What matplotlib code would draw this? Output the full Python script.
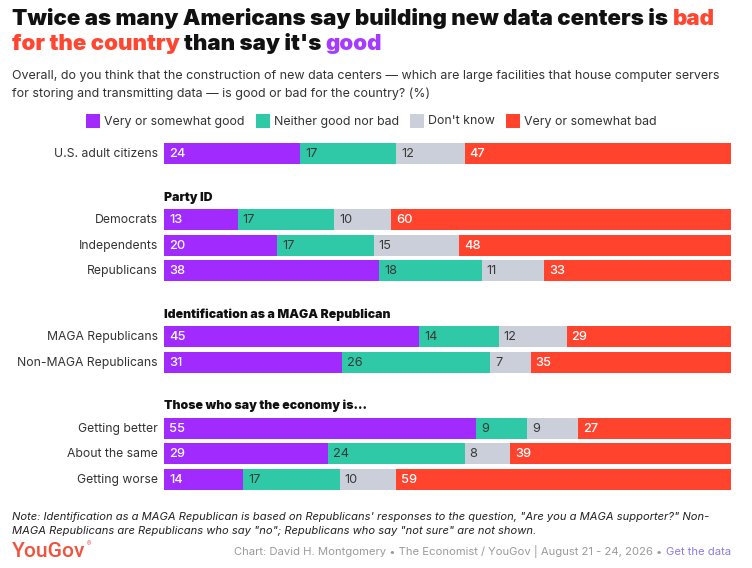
import matplotlib
matplotlib.use("Agg")
import matplotlib.pyplot as plt
from matplotlib.patches import Rectangle
from matplotlib.transforms import offset_copy

# ---------------- data ----------------
categories = ["Very or somewhat good", "Neither good nor bad", "Don't know", "Very or somewhat bad"]
colors = ["#A12AFF", "#2FC9A8", "#CBCFD9", "#FF432D"]
label_colors = ["white", "#3a3a3a", "#3a3a3a", "white"]

group_titles = ["", "Party ID", "Identification as a MAGA Republican", "Those who say the economy is..."]
group_rows = [
    ["U.S. adult citizens"],
    ["Democrats", "Independents", "Republicans"],
    ["MAGA Republicans", "Non-MAGA Republicans"],
    ["Getting better", "About the same", "Getting worse"],
]
good = [24, 13, 20, 38, 45, 31, 55, 29, 14]
neither = [17, 17, 17, 18, 14, 26, 9, 24, 17]
dont_know = [12, 10, 15, 11, 12, 7, 9, 8, 10]
bad = [47, 60, 48, 33, 29, 35, 27, 39, 59]

title_line1 = [("Twice as many Americans say building new data centers is", "#111111"), ("bad", "#FF4631")]
title_line2 = [("for the country", "#FF4631"), ("than say it's", "#111111"), ("good", "#A43BFF")]
subtitle = ["Overall, do you think that the construction of new data centers \u2014 which are large facilities that house computer servers",
            "for storing and transmitting data \u2014 is good or bad for the country? (%)"]
note = ["Note: Identification as a MAGA Republican is based on Republicans' responses to the question, \"Are you a MAGA supporter?\" Non-",
        "MAGA Republicans are Republicans who say \"no\"; Republicans who say \"not sure\" are not shown."]
credit = "Chart: David H. Montgomery \u2022 The Economist / YouGov | August 21 - 24, 2026 \u2022 "
credit_link = "Get the data"

# ---------------- figure ----------------
W, H = 752, 568
plt.rcParams['font.family'] = ['Inter', 'DejaVu Sans']
fig = plt.figure(figsize=(W / 100, H / 100), dpi=100)
fig.patch.set_facecolor("white")

BAR_L, BAR_R = 164, 731
ax = fig.add_axes([BAR_L / W, 0, (BAR_R - BAR_L) / W, 1])
ax.set_xlim(0, 100)
ax.set_ylim(H, 0)
ax.axis("off")

ov = fig.add_axes([0, 0, 1, 1], zorder=5)
ov.set_xlim(0, W)
ov.set_ylim(H, 0)
ov.axis("off")
ov.patch.set_alpha(0)

renderer = fig.canvas.get_renderer()


def width_of(t):
    return t.get_window_extent(renderer).width


def fit_size(s, target, size=10, **kw):
    t = ov.text(0, 0, s, fontsize=size, **kw)
    w = width_of(t)
    t.remove()
    return size * target / w


def space_w(size, **kw):
    a = ov.text(0, 0, "a a", fontsize=size, **kw)
    b = ov.text(0, 0, "aa", fontsize=size, **kw)
    d = width_of(a) - width_of(b)
    a.remove(); b.remove()
    return d


def pieces(x, y, parts, size, **kw):
    sw = space_w(size, **kw)
    for s, c in parts:
        t = ov.text(x, y, s, fontsize=size, color=c, va="baseline", ha="left", **kw)
        x = x + width_of(t) + sw
    return x


HEAVY = dict(family=["Inter", "DejaVu Sans"], fontweight="black")

# ---------------- title ----------------
full1 = " ".join(p for p, _ in title_line1)
tsize = fit_size(full1, 706, **HEAVY)
pieces(12, 25, title_line1, tsize, **HEAVY)
pieces(12, 50, title_line2, tsize, **HEAVY)

# ---------------- subtitle ----------------
ssize = fit_size(subtitle[0], 707)
ov.text(12, 79, subtitle[0], fontsize=ssize, color="#333333", va="baseline")
ov.text(12, 97, subtitle[1], fontsize=ssize, color="#333333", va="baseline")

# ---------------- legend ----------------
lsize = fit_size(categories[0], 141)
sq, gap_txt, gap_item = 14, 4, 11
tmp = [ov.text(0, 0, c, fontsize=lsize) for c in categories]
widths = [width_of(t) for t in tmp]
for t in tmp:
    t.remove()
total = sum(sq + gap_txt + w for w in widths) + gap_item * (len(categories) - 1)
x = (12 + BAR_R) / 2 - total / 2
for c, col, w in zip(categories, colors, widths):
    ov.add_patch(Rectangle((x, 114), sq, sq, facecolor=col, edgecolor="none"))
    ov.text(x + sq + gap_txt, 124.5, c, fontsize=lsize, color="#333333", va="baseline")
    x += sq + gap_txt + w + gap_item

# ---------------- bars ----------------
first_y, pitch, group_extra, bar_h = 153.5, 25.5, 40.5, 21
hdr_off = 18.6
series = [good, neither, dont_know, bad]
cat_size = fit_size("Non-MAGA Republicans", 141)
hdr_size = fit_size(group_titles[2], 226, **HEAVY)
val_tr = offset_copy(ax.transData, fig=fig, x=5, y=0, units="dots")

y = first_y
i = 0
for g, (gt, rows) in enumerate(zip(group_titles, group_rows)):
    if g > 0:
        y += pitch + group_extra
    if gt:
        ov.text(BAR_L, y - hdr_off, gt, fontsize=hdr_size, color="#111111",
                va="baseline", **HEAVY)
    for r, name in enumerate(rows):
        if r > 0:
            y += pitch
        vals = [s[i] for s in series]
        tot = sum(vals)
        left = 0
        for v, col, lc in zip(vals, colors, label_colors):
            wv = v / tot * 100
            ax.barh(y, wv, left=left, height=bar_h, color=col, edgecolor="none")
            ax.text(left, y + 3.8, str(v), transform=val_tr, fontsize=cat_size * 1.05,
                    color=lc, va="baseline", ha="left",
                    fontweight="medium" if lc == "white" else "normal")
            left += wv
        ov.text(BAR_L - 6, y + 3.8, name, fontsize=cat_size, color="#333333",
                ha="right", va="baseline")
        i += 1

# ---------------- note & footer ----------------
nkw = dict(style="italic")
nsize = fit_size(note[0], 697, **nkw)
ov.text(12, 520, note[0], fontsize=nsize, color="#222222", va="baseline", **nkw)
ov.text(12, 533.5, note[1], fontsize=nsize, color="#222222", va="baseline", **nkw)

ykw = dict(family=["Roboto", "DejaVu Sans"], fontweight="medium")
ysize = fit_size("YouGov", 73, **ykw)
yt = ov.text(12, 557, "YouGov", fontsize=ysize, color="#F0533E", va="baseline", **ykw)
ov.text(12 + width_of(yt) + 1, 546, "\u00ae", fontsize=ysize * 0.3, color="#F0533E", va="baseline")

csize = fit_size(credit + credit_link, 499)
lt = ov.text(BAR_R, 555, credit_link, fontsize=csize, color="#8C7CE6", ha="right", va="baseline")
ov.text(BAR_R - width_of(lt) - space_w(csize), 555, credit.rstrip(), fontsize=csize,
        color="#9A9A9A", ha="right", va="baseline")

fig.savefig("out.png", dpi=100, facecolor="white")
